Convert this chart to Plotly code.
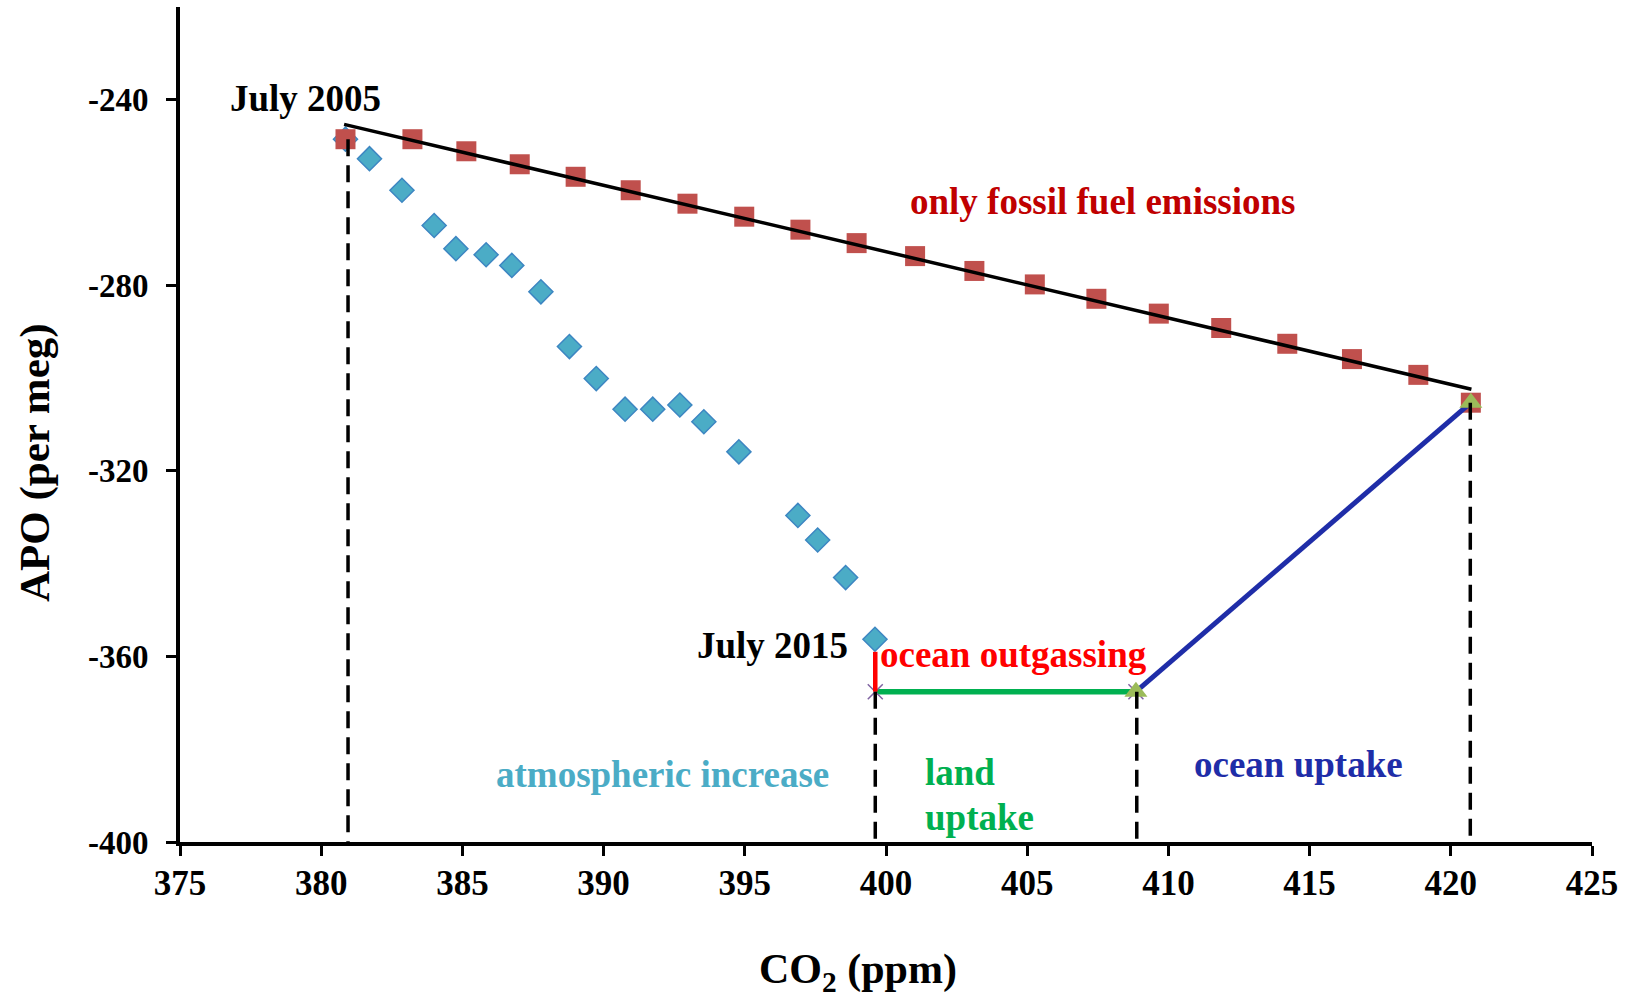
import plotly.graph_objects as go

# ---- data ----
co2_atm = [380.86, 381.71, 382.86, 384.00, 384.77, 385.84, 386.75, 387.78, 388.79, 389.74,
           390.76, 391.74, 392.70, 393.55, 394.79, 396.88, 397.58, 398.57, 399.61]
apo_atm = [-248.5, -252.7, -259.5, -267.1, -272.1, -273.4, -275.7, -281.4, -293.2, -300.1,
           -306.7, -306.7, -305.8, -309.4, -315.9, -329.6, -334.9, -343.0, -356.3]

co2_ff = [380.86, 383.23, 385.14, 387.03, 389.01, 390.96, 392.97, 394.98, 396.97, 398.96,
          401.03, 403.13, 405.27, 407.45, 409.66, 411.87, 414.21, 416.50, 418.85, 420.71]
apo_ff = [-248.5, -248.5, -251.1, -253.9, -256.6, -259.5, -262.4, -265.2, -268.0, -270.9,
          -273.7, -276.9, -279.8, -282.9, -286.1, -289.2, -292.6, -295.9, -299.3, -305.3]

fit_co2 = [380.81, 420.73]
fit_apo = [-245.3, -302.4]

outgas_co2 = [399.62, 399.62]
outgas_apo = [-367.6, -359.0]
land_co2 = [399.62, 408.85]
land_apo = [-367.6, -367.6]
ocean_co2 = [408.85, 420.71]
ocean_apo = [-367.6, -305.3]

tri_co2 = [408.85, 420.71]
tri_apo = [-367.6, -305.3]
x_co2 = [399.62, 408.85]
x_apo = [-367.6, -367.6]

drop_co2 = [380.95, 399.62, 408.88, 420.69]
drop_top = [-248.5, -367.6, -367.6, -305.3]
drop_bottom = -400

x_ticks = [375, 380, 385, 390, 395, 400, 405, 410, 415, 420, 425]
y_ticks = [-400, -360, -320, -280, -240]
y_ticktext = ["-400", "-360", "-320", "-280", "-240"]

FONT = "Liberation Serif, Times New Roman, serif"

fig = go.Figure()

fig.add_trace(go.Scatter(x=co2_atm, y=apo_atm, mode="markers",
                         marker=dict(symbol="diamond", size=18.5, color="#4BACC6",
                                     line=dict(color="#3D86C2", width=1.5))))
fig.add_trace(go.Scatter(x=co2_ff, y=apo_ff, mode="markers",
                         marker=dict(symbol="square", size=20, color="#C0504D",
                                     line=dict(width=0))))
fig.add_trace(go.Scatter(x=fit_co2, y=fit_apo, mode="lines",
                         line=dict(color="black", width=3.5)))
fig.add_trace(go.Scatter(x=land_co2, y=land_apo, mode="lines",
                         line=dict(color="#00B050", width=5.5)))
fig.add_trace(go.Scatter(x=x_co2, y=x_apo, mode="markers",
                         marker=dict(symbol="x-thin-open", size=15, color="#8064A2",
                                     line=dict(color="#8064A2", width=1.5))))
fig.add_trace(go.Scatter(x=outgas_co2, y=outgas_apo, mode="lines",
                         line=dict(color="#FF0000", width=4.5)))
fig.add_trace(go.Scatter(x=ocean_co2, y=ocean_apo, mode="lines",
                         line=dict(color="#1F2DA8", width=5)))
fig.add_trace(go.Scatter(x=tri_co2, y=tri_apo, mode="markers",
                         marker=dict(symbol="triangle-up", size=20, color="#9BBB59",
                                     line=dict(width=0))))
for xv, top in zip(drop_co2, drop_top):
    fig.add_trace(go.Scatter(x=[xv, xv], y=[top, drop_bottom], mode="lines",
                             line=dict(color="black", width=3.5, dash="17px,9px")))

def note(text, x, y, color, anchor="center", size=37):
    fig.add_annotation(text=text, x=x, y=y, xref="x", yref="y", showarrow=False,
                       xanchor=anchor, yanchor="middle",
                       font=dict(family=FONT, size=size, color=color, weight="bold"))

note("July 2005", 379.43, -239.8, "black")
note("only fossil fuel emissions", 407.67, -261.95, "#C00000")
note("July 2015", 395.98, -357.7, "black")
note("ocean outgassing", 399.72, -359.6, "#FF0000", anchor="left")
note("atmospheric increase", 392.07, -385.4, "#4BACC6")
note("land", 401.31, -385.0, "#00B050", anchor="left")
note("uptake", 401.31, -394.7, "#00B050", anchor="left")
note("ocean uptake", 414.59, -383.2, "#1F2DA8")

# axis titles (placed as in the reference, off-centre)
fig.add_annotation(text="APO (per meg)", x=-0.1027, y=0.455, xref="paper", yref="paper",
                   showarrow=False, textangle=-90, xanchor="center", yanchor="middle",
                   font=dict(family=FONT, size=43, color="black", weight="bold"))
fig.add_annotation(text="CO<sub>2</sub> (ppm)", x=0.4802, y=-0.1557, xref="paper", yref="paper",
                   showarrow=False, xanchor="center", yanchor="middle",
                   font=dict(family=FONT, size=42, color="black", weight="bold"))

fig.update_layout(
    width=1634, height=1003,
    margin=dict(l=180, r=42, t=7, b=161, autoexpand=False),
    paper_bgcolor="white", plot_bgcolor="white",
    showlegend=False,
    font=dict(family=FONT, color="black"),
    xaxis=dict(range=[375, 425], tickvals=x_ticks, ticks="outside", ticklen=10,
               tickwidth=3, tickcolor="black", showline=True, linewidth=4,
               linecolor="black", showgrid=False, zeroline=False, automargin=False,
               ticklabelstandoff=-3,
               tickfont=dict(family=FONT, size=35, color="black", weight="bold")),
    yaxis=dict(range=[-400, -220], tickvals=y_ticks, ticktext=y_ticktext,
               ticks="outside", ticklen=10, tickwidth=3, tickcolor="black",
               showline=True, linewidth=4, linecolor="black", showgrid=False,
               zeroline=False, automargin=False, ticklabelstandoff=11,
               tickfont=dict(family=FONT, size=33, color="black", weight="bold")),
)

fig.write_html("out.html")
